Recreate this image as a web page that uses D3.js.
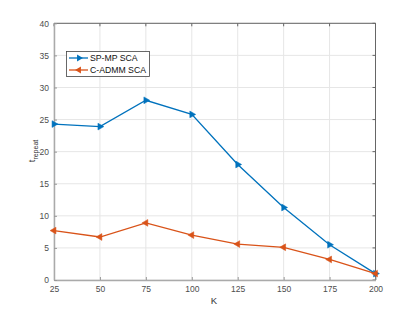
<!DOCTYPE html>
<html>
<head>
<meta charset="utf-8">
<script src="https://cdn.jsdelivr.net/npm/d3@7"></script>
<style>
  body { margin: 0; background: #fff; }
  text { font-family: "Liberation Sans", Arial, sans-serif; }
</style>
</head>
<body>
<div id="chart"></div>
<script>
// data
var kValues = [25, 50, 75, 100, 125, 150, 175, 200];
var spmp = [24.3, 23.9, 28.0, 25.8, 18.0, 11.3, 5.5, 1.0];
var cadmm = [7.7, 6.7, 8.9, 7.0, 5.6, 5.1, 3.2, 1.0];
var xTicks = [25, 50, 75, 100, 125, 150, 175, 200];
var yTicks = [0, 5, 10, 15, 20, 25, 30, 35, 40];
var seriesNames = ["SP-MP SCA", "C-ADMM SCA"];

var w = 415, h = 315;
var pl = 54, pr = 375.5, pt = 23.3, pb = 280;

var svg = d3.select("#chart").append("svg")
  .attr("width", w).attr("height", h);

var xScale = d3.scaleLinear().domain([25, 200]).range([pl, pr]);
var yScale = d3.scaleLinear().domain([0, 40]).range([pb, pt]);

// grid
svg.append("g").selectAll("line").data(xTicks).enter().append("line")
  .attr("x1", function(d) { return xScale(d); })
  .attr("x2", function(d) { return xScale(d); })
  .attr("y1", pt).attr("y2", pb)
  .attr("stroke", "#e6e6e6").attr("stroke-width", 1);
svg.append("g").selectAll("line").data(yTicks).enter().append("line")
  .attr("y1", function(d) { return yScale(d); })
  .attr("y2", function(d) { return yScale(d); })
  .attr("x1", pl).attr("x2", pr)
  .attr("stroke", "#e6e6e6").attr("stroke-width", 1);

// top and right box edges
svg.append("line").attr("x1", pl).attr("x2", pr).attr("y1", pt).attr("y2", pt)
  .attr("stroke", "#666").attr("stroke-width", 1);
svg.append("line").attr("x1", pr).attr("x2", pr).attr("y1", pt).attr("y2", pb)
  .attr("stroke", "#666").attr("stroke-width", 1);
// inner ticks on top/right
svg.append("g").selectAll("line").data(xTicks).enter().append("line")
  .attr("x1", function(d) { return xScale(d); })
  .attr("x2", function(d) { return xScale(d); })
  .attr("y1", pt).attr("y2", pt + 3)
  .attr("stroke", "#666");
svg.append("g").selectAll("line").data(yTicks).enter().append("line")
  .attr("y1", function(d) { return yScale(d); })
  .attr("y2", function(d) { return yScale(d); })
  .attr("x1", pr).attr("x2", pr - 3)
  .attr("stroke", "#666");

// axes
var xAxis = d3.axisBottom(xScale).tickValues(xTicks).tickSizeInner(-3).tickSizeOuter(0).tickPadding(6);
var gx = svg.append("g").attr("transform", "translate(0," + pb + ")").call(xAxis);
var yAxis = d3.axisLeft(yScale).tickValues(yTicks).tickSizeInner(-3).tickSizeOuter(0).tickPadding(5);
var gy = svg.append("g").attr("transform", "translate(" + pl + ",0)").call(yAxis);
[gx, gy].forEach(function(g) {
  g.select(".domain").attr("stroke", "#aaa").attr("stroke-width", 1.5);
  g.selectAll(".tick line").attr("stroke", "#999");
  g.selectAll(".tick text").attr("fill", "#4d4d4d").style("font-size", "8.5px");
});

// axis labels
svg.append("text").attr("x", 214).attr("y", 304).attr("text-anchor", "middle")
  .attr("fill", "#333").style("font-size", "9.5px").text("K");
var yl = svg.append("text").attr("transform", "translate(35,151) rotate(-90)")
  .attr("text-anchor", "middle").attr("fill", "#333").style("font-size", "9.5px");
yl.append("tspan").text("t");
yl.append("tspan").attr("dy", 3).style("font-size", "7px").text("repeat");

// lines
var colors = ["#0072BD", "#D95319"];
var allSeries = [spmp, cadmm];
var line = d3.line()
  .x(function(d, i) { return xScale(kValues[i]); })
  .y(function(d) { return yScale(d); });

var tri = d3.symbol().type(d3.symbolTriangle).size(20);
allSeries.forEach(function(s, k) {
  svg.append("path").datum(s).attr("d", line)
    .attr("fill", "none").attr("stroke", colors[k]).attr("stroke-width", 1.3);
  svg.append("g").selectAll("path").data(s).enter().append("path")
    .attr("d", tri)
    .attr("transform", function(d, i) {
      return "translate(" + xScale(kValues[i]) + "," + yScale(d) + ") rotate(" + (k == 0 ? 90 : -90) + ")";
    })
    .attr("fill", colors[k]).attr("stroke", colors[k]).attr("stroke-width", 0.5);
});

// legend
var lg = svg.append("g");
lg.append("rect").attr("x", 66.5).attr("y", 51.5).attr("width", 83).attr("height", 25)
  .attr("fill", "#fff").attr("stroke", "#444").attr("stroke-width", 0.8);
seriesNames.forEach(function(name, k) {
  var yy = 58 + k * 12;
  lg.append("line").attr("x1", 69).attr("x2", 88).attr("y1", yy).attr("y2", yy)
    .attr("stroke", colors[k]).attr("stroke-width", 1.3);
  lg.append("path").attr("d", tri)
    .attr("transform", "translate(79," + yy + ") rotate(" + (k == 0 ? 90 : -90) + ")")
    .attr("fill", colors[k]);
  lg.append("text").attr("x", 90).attr("y", yy + 3).attr("fill", "#111")
    .style("font-size", "8.7px").text(name);
});
</script>
</body>
</html>
